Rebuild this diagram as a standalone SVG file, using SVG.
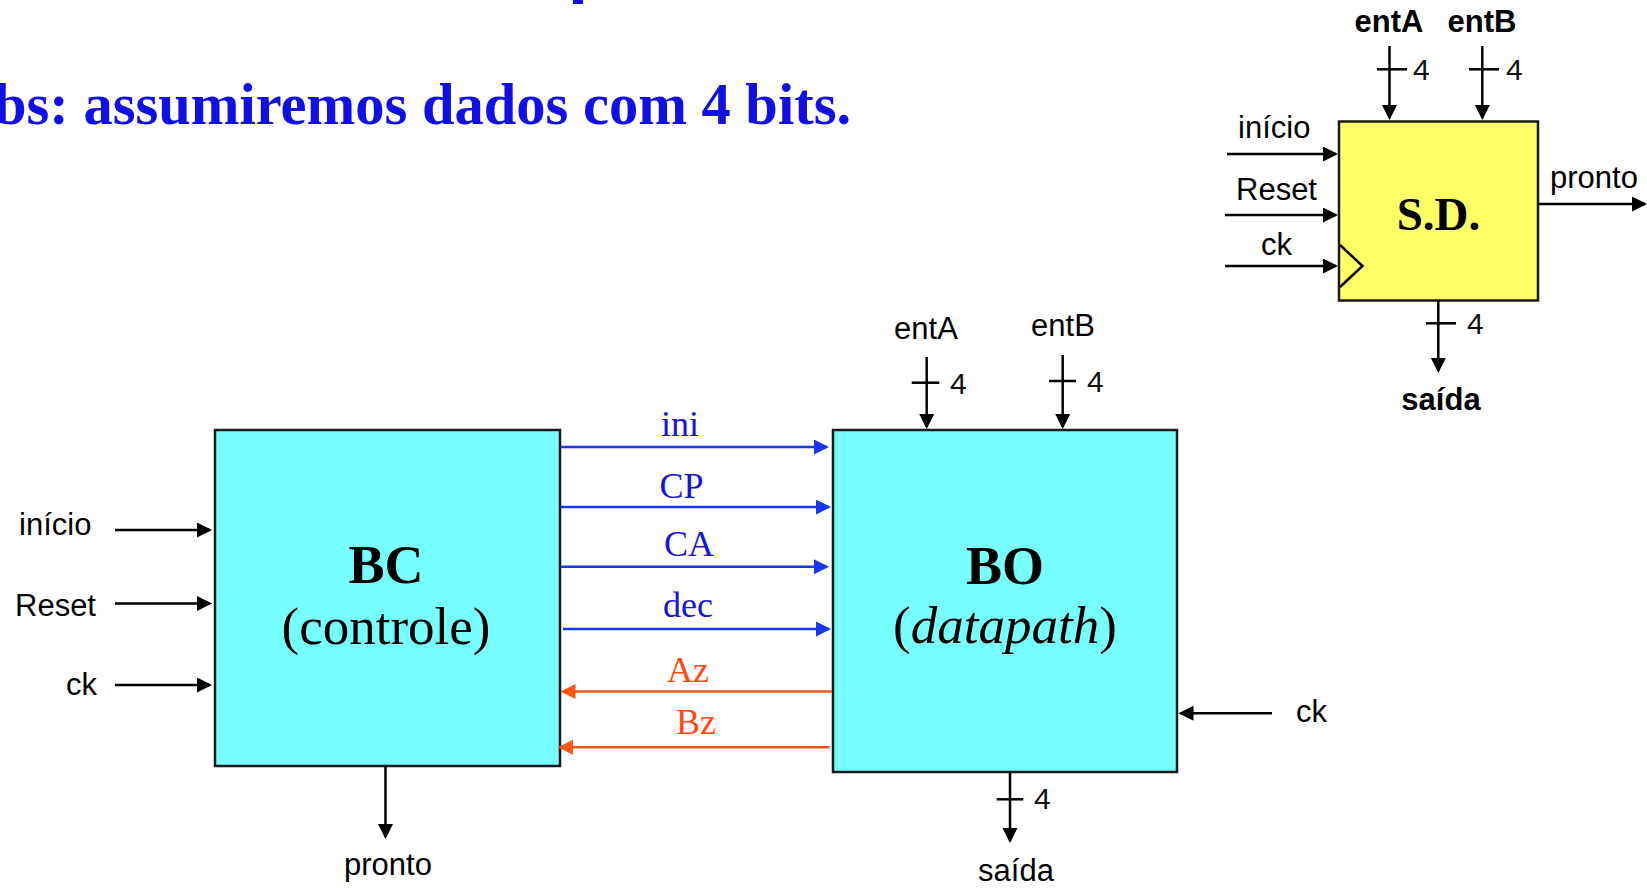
<svg xmlns="http://www.w3.org/2000/svg" width="1647" height="888" viewBox="0 0 1647 888">
<style>
.lbl{font-family:"Liberation Sans",Arial,sans-serif;font-size:31px;fill:#000}
.lblb{font-family:"Liberation Sans",Arial,sans-serif;font-size:31px;font-weight:bold;fill:#000}
.num{font-family:"Liberation Sans",Arial,sans-serif;font-size:30px;fill:#111}
.blk{font-family:"Liberation Serif","Times New Roman",serif;fill:#000}
.sig{font-family:"Liberation Serif","Times New Roman",serif;font-size:36px;text-anchor:middle}
.wire{stroke:#000;stroke-width:2.5;fill:none}
.bw{stroke:#1a36f5;stroke-width:2.5;fill:none}
.ow{stroke:#ff5512;stroke-width:2.5;fill:none}
.box{stroke:#1a1a1a;stroke-width:2.5}
</style>
<defs>
<marker id="ak" markerUnits="userSpaceOnUse" markerWidth="16" markerHeight="16" refX="13" refY="7.5" orient="auto"><path d="M0,0 L15,7.5 L0,15 z" fill="#000"/></marker>
<marker id="ab" markerUnits="userSpaceOnUse" markerWidth="16" markerHeight="16" refX="13" refY="7.5" orient="auto"><path d="M0,0 L15,7.5 L0,15 z" fill="#1a36f5"/></marker>
<marker id="ao" markerUnits="userSpaceOnUse" markerWidth="16" markerHeight="16" refX="13" refY="7.5" orient="auto"><path d="M0,0 L15,7.5 L0,15 z" fill="#ff5512"/></marker>
</defs>

<g id="title">
<rect x="573" y="0" width="10" height="4" fill="#1010e6"/>
<text x="-6" y="124" font-family="'Liberation Serif','Times New Roman',serif" font-size="58.5" font-weight="bold" fill="#1010e6">bs: assumiremos dados com 4 bits.</text>
</g>

<g id="sd">
<rect class="box" x="1339" y="121.5" width="199" height="179" fill="#ffff66"/>
<polyline class="wire" points="1340,245 1362.5,266 1340,287" fill="#ffff66"/>
<text class="blk" x="1438.5" y="230" font-size="47" font-weight="bold" text-anchor="middle">S.D.</text>
</g>

<g id="bc">
<rect class="box" x="215" y="430" width="345" height="336" fill="#77ffff"/>
<text class="blk" x="386" y="583" font-size="54" font-weight="bold" text-anchor="middle">BC</text>
<text class="blk" x="386" y="644" font-size="53" text-anchor="middle">(controle)</text>
</g>

<g id="bo">
<rect class="box" x="833" y="430" width="344" height="342" fill="#77ffff"/>
<text class="blk" x="1005" y="584" font-size="54" font-weight="bold" text-anchor="middle">BO</text>
<text class="blk" x="1005" y="643" font-size="53" text-anchor="middle">(<tspan font-style="italic">datapath</tspan>)</text>
</g>

<g id="connectors">
<line class="wire" x1="1389.5" y1="46" x2="1389.5" y2="118" marker-end="url(#ak)"/>
<line class="wire" x1="1377" y1="69.3" x2="1407" y2="69.3"/>
<line class="wire" x1="1482.3" y1="46" x2="1482.3" y2="118" marker-end="url(#ak)"/>
<line class="wire" x1="1469" y1="69.3" x2="1499" y2="69.3"/>
<line class="wire" x1="1227" y1="154" x2="1336" y2="154" marker-end="url(#ak)"/>
<line class="wire" x1="1225" y1="215" x2="1336" y2="215" marker-end="url(#ak)"/>
<line class="wire" x1="1225" y1="266" x2="1336" y2="266" marker-end="url(#ak)"/>
<line class="wire" x1="1538" y1="204" x2="1645" y2="204" marker-end="url(#ak)"/>
<line class="wire" x1="1438.3" y1="300" x2="1438.3" y2="371" marker-end="url(#ak)"/>
<line class="wire" x1="1426" y1="323.3" x2="1456" y2="323.3"/>

<line class="wire" x1="115" y1="530" x2="210" y2="530" marker-end="url(#ak)"/>
<line class="wire" x1="115" y1="603.5" x2="210" y2="603.5" marker-end="url(#ak)"/>
<line class="wire" x1="115" y1="685" x2="210" y2="685" marker-end="url(#ak)"/>
<line class="wire" x1="385.5" y1="766" x2="385.5" y2="837" marker-end="url(#ak)"/>

<line class="bw" x1="561" y1="447" x2="827" y2="447" marker-end="url(#ab)"/>
<line class="bw" x1="561" y1="507" x2="829" y2="507" marker-end="url(#ab)"/>
<line class="bw" x1="561" y1="566.7" x2="827" y2="566.7" marker-end="url(#ab)"/>
<line class="bw" x1="563" y1="629" x2="829" y2="629" marker-end="url(#ab)"/>
<line class="ow" x1="832" y1="691.5" x2="562.5" y2="691.5" marker-end="url(#ao)"/>
<line class="ow" x1="829.5" y1="747.3" x2="560" y2="747.3" marker-end="url(#ao)"/>

<line class="wire" x1="926.7" y1="357" x2="926.7" y2="427" marker-end="url(#ak)"/>
<line class="wire" x1="911.7" y1="382.7" x2="939.3" y2="382.7"/>
<line class="wire" x1="1062.7" y1="355" x2="1062.7" y2="427" marker-end="url(#ak)"/>
<line class="wire" x1="1049" y1="381" x2="1076" y2="381"/>
<line class="wire" x1="1272" y1="713.3" x2="1180.5" y2="713.3" marker-end="url(#ak)"/>
<line class="wire" x1="1010" y1="772" x2="1010" y2="841" marker-end="url(#ak)"/>
<line class="wire" x1="996.7" y1="799.3" x2="1023.3" y2="799.3"/>
</g>

<g id="labels">
<text class="lblb" x="1389" y="31.7" text-anchor="middle">entA</text>
<text class="lblb" x="1482" y="31.7" text-anchor="middle">entB</text>
<text class="num" x="1413" y="80">4</text>
<text class="num" x="1506" y="80">4</text>
<text class="lbl" x="1238" y="138">início</text>
<text class="lbl" x="1236" y="200">Reset</text>
<text class="lbl" x="1261" y="255">ck</text>
<text class="lbl" x="1550" y="188">pronto</text>
<text class="num" x="1467" y="334">4</text>
<text class="lblb" x="1441" y="410" text-anchor="middle">saída</text>

<text class="lbl" x="19" y="535">início</text>
<text class="lbl" x="15" y="616">Reset</text>
<text class="lbl" x="66" y="695">ck</text>
<text class="lbl" x="388" y="875" text-anchor="middle">pronto</text>

<text class="sig" x="680" y="436" fill="#1515e0">ini</text>
<text class="sig" x="681.5" y="498.3" fill="#1515e0">CP</text>
<text class="sig" x="689" y="555.7" fill="#1515e0">CA</text>
<text class="sig" x="688" y="617" fill="#1515e0">dec</text>
<text class="sig" x="688" y="681.7" fill="#ff4a10">Az</text>
<text class="sig" x="696" y="734.3" fill="#ff4a10">Bz</text>

<text class="lbl" x="926" y="339" text-anchor="middle">entA</text>
<text class="lbl" x="1063" y="336" text-anchor="middle">entB</text>
<text class="num" x="950" y="394">4</text>
<text class="num" x="1087" y="392">4</text>
<text class="lbl" x="1296" y="721.7">ck</text>
<text class="num" x="1034" y="809">4</text>
<text class="lbl" x="1016" y="881" text-anchor="middle">saída</text>
</g>
</svg>
